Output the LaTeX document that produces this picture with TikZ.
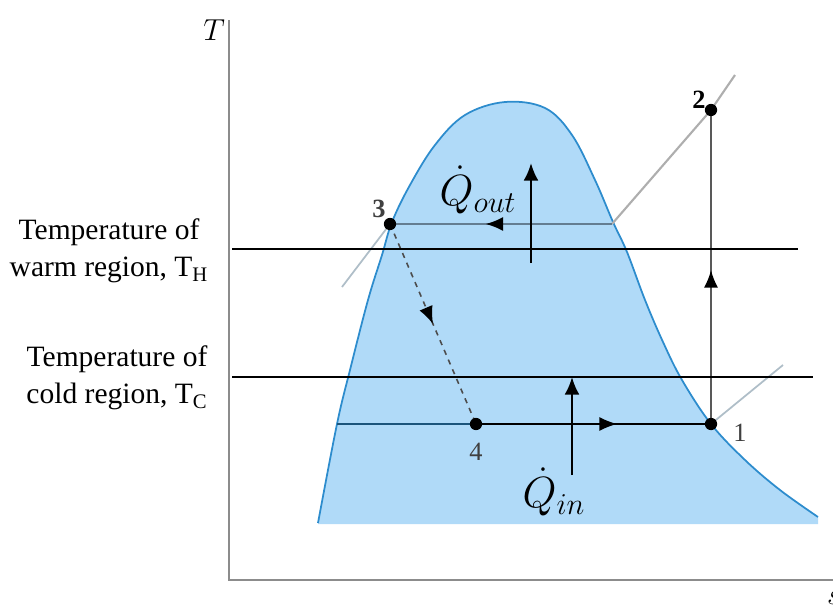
\documentclass[tikz,border=0pt]{standalone}
\usepackage{fontspec}
\setmainfont{Liberation Serif}
\usetikzlibrary{arrows.meta,decorations.markings}
\definecolor{dome}{RGB}{176,218,248}
\definecolor{domeline}{RGB}{45,140,205}
\definecolor{isobar}{RGB}{100,125,145}
\definecolor{faint}{RGB}{175,190,200}
\definecolor{axis}{RGB}{140,140,140}

\begin{document}
\begin{tikzpicture}[x=0.02cm, y=-0.02cm, >=latex, line width=0.5pt,
    dot/.style={circle, fill=black, inner sep=0pt, minimum size=7pt},
    num/.style={font=\fontsize{15}{15}\selectfont, inner sep=1pt, text=black!75},
    region/.style={align=center, font=\fontsize{16.8}{21}\selectfont},
    level/.style={line width=1.1pt},
    flowarrow/.style={postaction={decorate}, decoration={markings,
        mark=at position #1 with {\arrow[black, solid]{Latex[length=10pt,width=8pt]}}}},
    heat/.style={-{Latex[length=10pt,width=8.5pt]}, line width=1.4pt},
    heatlabel/.style={font=\fontsize{26}{26}\selectfont, inner sep=0pt}]
    \clip (0,0) rectangle (833,605);
    % two-phase dome
    \fill[dome] plot[smooth, tension=0.6] coordinates {(318,523) (337,424) (350,370)
        (368,300) (382,255) (392,222) (410,185) (435,145) (465,115) (505,102)
        (545,108) (572,135) (595,180) (613,222) (627,252) (645,300) (663,342)
        (682,380) (711,424) (745,460) (780,490) (818,517)} -- (818,524) -- (318,524) -- cycle;
    \draw[domeline, line width=1pt] plot[smooth, tension=0.6] coordinates {(318,523) (337,424) (350,370)
        (368,300) (382,255) (392,222) (410,185) (435,145) (465,115) (505,102)
        (545,108) (572,135) (595,180) (613,222) (627,252) (645,300) (663,342)
        (682,380) (711,424) (745,460) (780,490) (818,517)};
    % axes
    \draw[axis, line width=1.4pt] (229,20) -- (229,580) -- (840,580);
    \node[font=\fontsize{17}{17}\selectfont, anchor=east, inner sep=1pt] (Tlab) at (227,30) {$T$};
    \node[font=\fontsize{17}{17}\selectfont, inner sep=1pt] (slab) at (834,598) {$s$};
    % state points
    \coordinate (p1) at (711,424);
    \coordinate (p2) at (711,110);
    \coordinate (p3) at (390,224);
    \coordinate (p4) at (476,424);
    \coordinate (sat3) at (612,224);
    \coordinate (sat4) at (337,424);
    \node[num] (n1) at (740,433) {1};
    \node[num, font=\fontsize{15}{15}\selectfont\bfseries, text=black] (n2) at (699,100) {2};
    \node[num, font=\fontsize{15}{15}\selectfont\bfseries] (n3) at (379,209) {3};
    \node[num] (n4) at (476,452) {4};
    % isobars outside the dome
    \draw[faint, line width=1pt] (342,287) -- (p3);
    \draw[faint, line width=1pt] (p1) -- (783,365);
    \draw[axis!70, line width=1.2pt] (sat3) -- (p2) -- (735,75);
    % cycle
    \draw[isobar, line width=1.3pt, flowarrow=0.57] (sat3) -- (p3);
    \draw[black!70, dashed, line width=0.9pt, flowarrow=0.5] (p3) -- (p4);
    \draw[domeline!60!black, line width=0.7pt] (sat4) -- (p4);
    \draw[line width=0.9pt, flowarrow=0.6] (p4) -- (p1);
    \draw[black!65, line width=0.9pt, flowarrow=0.49] (p1) -- (p2);
    \foreach \p in {p1,p2,p3,p4}
        \node[dot] at (\p) {};
    % reservoir temperatures
    \draw[level] (232,249) -- (798,249);
    \draw[level] (232,377) -- (813,377);
    \node[region] (warm) at (109,251) {Temperature of\\warm region, T\textsubscript{H}};
    \node[region] (cold) at (117,378) {Temperature of\\cold region, T\textsubscript{C}};
    % heat flows
    \coordinate (qouta) at (531,263);
    \coordinate (qoutb) at (531,163);
    \draw[heat] (qouta) -- (qoutb);
    \node[heatlabel] (qout) at (478,190) {$\dot Q_{out}$};
    \coordinate (qina) at (572,475);
    \coordinate (qinb) at (572,377);
    \draw[heat] (qina) -- (qinb);
    \node[heatlabel] (qin) at (554,492) {$\dot Q_{in}$};
\end{tikzpicture}
\end{document}
